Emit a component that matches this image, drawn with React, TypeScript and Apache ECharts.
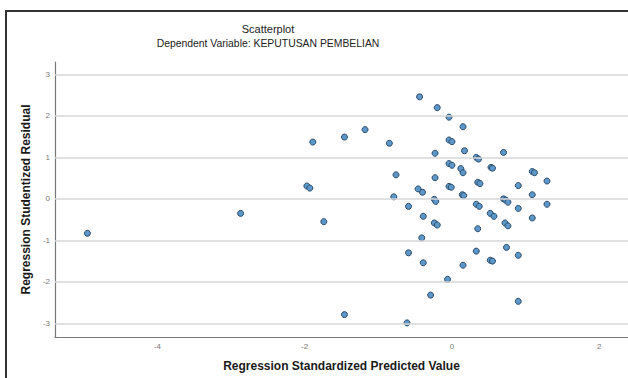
import React, { useEffect, useRef } from "react";
import * as echarts from "echarts";

const xValues = [
  -4.95, -2.87, -1.97, -1.93, -1.89, -1.46, -1.18, -0.85, -0.44, -0.2,
  -0.04, 0.15, -0.04, 0.0, -0.23, 0.17, 0.33, 0.36, 0.7, -0.04,
  0.0, 0.12, 0.15, 0.53, 0.55, 1.09, 1.12, 1.29, 0.9, 1.09,
  1.29, -0.76, -0.23, 0.35, 0.38, -0.04, -0.01, -0.46, -0.4, -0.79,
  -0.24, -0.22, 0.14, 0.16, 0.7, 0.73, 0.76, 0.9, -0.59, 0.33,
  0.37, -0.39, -0.24, -0.2, 0.52, 0.57, 0.72, 0.76, 1.09, -1.74,
  0.35, -0.41, -0.59, -0.39, 0.33, 0.74, 0.9, 0.52, 0.55, 0.15,
  -0.06, -0.29, 0.9, -1.46, -0.61,
];
const yValues = [
  -0.83, -0.35, 0.31, 0.26, 1.37, 1.49, 1.67, 1.34, 2.46, 2.2,
  1.97, 1.74, 1.42, 1.38, 1.1, 1.16, 1.0, 0.96, 1.12, 0.85,
  0.81, 0.73, 0.63, 0.76, 0.74, 0.66, 0.63, 0.43, 0.32, 0.1,
  -0.13, 0.58, 0.51, 0.4, 0.37, 0.3, 0.28, 0.24, 0.16, 0.05,
  -0.01, -0.06, 0.1, 0.08, 0.0, -0.03, -0.08, -0.23, -0.18, -0.13,
  -0.18, -0.42, -0.58, -0.63, -0.35, -0.42, -0.58, -0.65, -0.46, -0.55,
  -0.72, -0.94, -1.3, -1.54, -1.26, -1.17, -1.36, -1.48, -1.5, -1.6,
  -1.94, -2.32, -2.47, -2.79, -2.99,
];
const xTicks = [-4, -2, 0, 2];
const yTicks = [-3, -2, -1, 0, 1, 2, 3];

const titleText = "Scatterplot";
const subtitleText = "Dependent Variable: KEPUTUSAN PEMBELIAN";
const xName = "Regression Standardized Predicted Value";
const yName = "Regression Studentized Residual";

export default function App() {
  const ref = useRef<HTMLDivElement>(null);
  useEffect(() => {
    if (!ref.current) return;
    const chart = echarts.init(ref.current, null, { renderer: "svg" });
    const font = "'Liberation Sans', Arial, sans-serif";
    chart.setOption({
      animation: false,
      backgroundColor: "#ffffff",
      textStyle: { fontFamily: font },
      grid: { left: 55, right: 0, top: 62, bottom: 41, containLabel: false },
      xAxis: {
        type: "value",
        min: -5.39,
        max: 2.39,
        name: xName,
        nameLocation: "middle",
        nameGap: 23,
        nameTextStyle: { fontSize: 12, fontWeight: "bold", color: "#1a1a1a", fontFamily: font },
        axisLine: { show: true, onZero: false, lineStyle: { color: "#777", width: 1.2 } },
        axisTick: { show: false },
        splitLine: { show: false },
        axisLabel: {
          customValues: xTicks,
          fontSize: 8,
          color: "#777",
          margin: 5,
          fontFamily: font,
        },
      },
      yAxis: {
        type: "value",
        min: -3.33,
        max: 3.3,
        name: yName,
        nameLocation: "middle",
        nameRotate: 90,
        nameGap: 21,
        nameTextStyle: { fontSize: 12, fontWeight: "bold", color: "#1a1a1a", fontFamily: font },
        axisLine: { show: true, onZero: false, lineStyle: { color: "#777", width: 1.2 } },
        axisTick: { show: false },
        splitLine: { show: false },
        axisLabel: {
          customValues: yTicks,
          fontSize: 8,
          color: "#777",
          margin: 5,
          fontFamily: font,
        },
      },
      graphic: [
        {
          type: "rect",
          shape: { x: 6, y: 11, width: 700, height: 500 },
          style: { fill: "none", stroke: "#333", lineWidth: 2 },
          silent: true,
        },
        {
          type: "text",
          x: 268,
          y: 29,
          style: {
            text: titleText,
            fontSize: 11,
            fontFamily: font,
            fill: "#222",
            align: "center",
            verticalAlign: "middle",
          },
        },
        {
          type: "text",
          x: 268,
          y: 43,
          style: {
            text: subtitleText,
            fontSize: 10.4,
            fontFamily: font,
            fill: "#222",
            align: "center",
            verticalAlign: "middle",
          },
        },
      ],
      series: [
        {
          type: "scatter",
          data: [],
          z: 1,
          silent: true,
          markLine: {
            silent: true,
            symbol: ["none", "none"],
            label: { show: false },
            lineStyle: { color: "#d6d6d6", width: 1.5, type: "solid" },
            data: yTicks.map((v) => ({ yAxis: v })),
          },
        },
        {
          type: "scatter",
          z: 3,
          symbol: "circle",
          symbolSize: 6,
          itemStyle: { color: "#5b98c9", borderColor: "#2b4a68", borderWidth: 1, opacity: 1 },
          data: xValues.map((x, i) => [x, yValues[i]]),
        },
      ],
    });
    return () => chart.dispose();
  }, []);
  return (
    <div
      ref={ref}
      style={{ position: "fixed", left: 0, top: 0, width: 628, height: 378, background: "#fff" }}
    />
  );
}
